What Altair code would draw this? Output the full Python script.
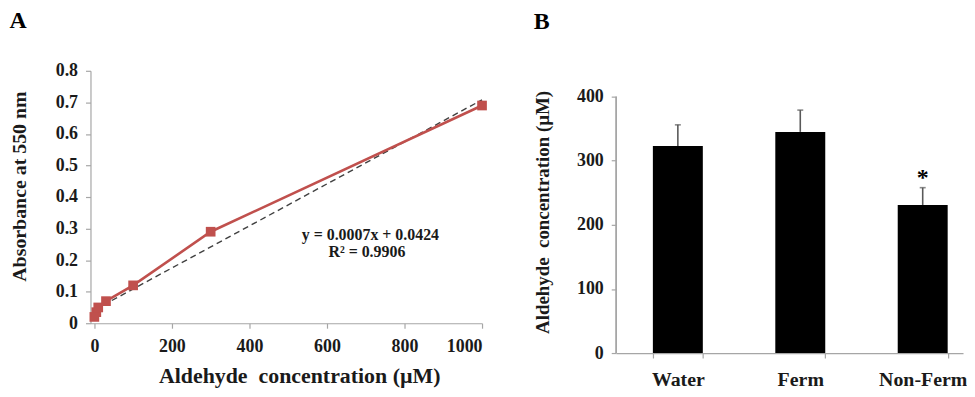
import altair as alt
import pandas as pd

# ---- Panel A data (standard curve) ----
std_conc = [0, 5, 10, 30, 100, 300, 1000]
absorbance = [0.02, 0.035, 0.05, 0.07, 0.12, 0.29, 0.69]
trend_x = [0, 1000]
trend_y = [0.042, 0.708]
eq_lines = ["y = 0.0007x + 0.0424", "R\u00b2 = 0.9906"]
eq_x = [712, 703]
eq_y = [0.278, 0.227]

# ---- Panel B data ----
groups = ["Water", "Ferm", "Non-Ferm"]
means = [323, 345, 231]
sems = [33, 34, 27]
star_group = ["Non-Ferm"]
star_y = [262]
star_text = ["*"]

SERIF = "Liberation Serif"
AX = "#a6a6a6"
CONC_TITLE = "Aldehyde\u00a0\u00a0concentration (\u00b5M)"

std_df = pd.DataFrame({"conc": std_conc, "abs": absorbance})
trend_df = pd.DataFrame({"conc": trend_x, "abs": trend_y})
eq_df = pd.DataFrame({"conc": eq_x, "abs": eq_y, "t": eq_lines})

xA = alt.X("conc:Q", scale=alt.Scale(domain=[-10, 1000], nice=False),
           axis=alt.Axis(values=[0, 200, 400, 600, 800, 1000], format="d", labelOverlap=False,
                         title=CONC_TITLE,
                         titleFontSize=22, titlePadding=11, labelPadding=9, titleX=210))
yA = alt.Y("abs:Q", scale=alt.Scale(domain=[0, 0.8], nice=False),
           axis=alt.Axis(values=[0, 0.1, 0.2, 0.3, 0.4, 0.5, 0.6, 0.7, 0.8], labelOverlap=False,
                         labelExpr="datum.value == 0 ? '0' : format(datum.value, '.1f')",
                         title="Absorbance at 550 nm", titleFontSize=20, titlePadding=26,
                         labelPadding=8, titleY=116))

trend = alt.Chart(trend_df).mark_line(color="#404040", strokeDash=[6, 4], strokeWidth=1.4).encode(x=xA, y=yA)
line = alt.Chart(std_df).mark_line(color="#c0504d", strokeWidth=2.6).encode(x=xA, y=yA)
pts = alt.Chart(std_df).mark_point(shape="square", filled=True, size=95, color="#c0504d", opacity=1).encode(x=xA, y=yA)
eq = alt.Chart(eq_df).mark_text(font=SERIF, fontWeight="bold", fontSize=16, color="#1a1a1a",
                                baseline="middle", align="center").encode(x=xA, y=yA, text="t:N")

panelA = alt.layer(trend, line, pts, eq).properties(
    width=394, height=254,
    title=alt.TitleParams("A", anchor="start", font=SERIF, fontSize=24, fontWeight="bold", offset=29),
)

bar_df = pd.DataFrame({"g": groups, "m": means, "s": sems})
bar_df["up"] = bar_df["m"] + bar_df["s"]
star_df = pd.DataFrame({"g": star_group, "y": star_y, "t": star_text})

Y_TOP = 400 * 284 / 258  # extra headroom so panel B's 400 sits lower than panel A's 0.8

xB = alt.X("g:N", sort=groups,
           scale=alt.Scale(paddingInner=0.592, paddingOuter=0.2125, align=0.705),
           axis=alt.Axis(title=None, labelAngle=0, tickBand="extent", labelFontSize=20, labelPadding=12))
yB = alt.Y("m:Q", scale=alt.Scale(domain=[0, Y_TOP], nice=False),
           axis=alt.Axis(values=[0, 100, 200, 300, 400], title=CONC_TITLE,
                         domain=False, titleFontSize=19, titlePadding=24, labelPadding=8, titleY=142))

axis_line = alt.Chart(bar_df).mark_rule(color=AX, strokeWidth=1.2).encode(
    x=alt.value(0), y=alt.datum(0), y2=alt.datum(400))
bars = alt.Chart(bar_df).mark_bar(color="black").encode(x=xB, y=yB)
err = alt.Chart(bar_df).mark_rule(color="#595959", strokeWidth=1.6).encode(
    x=alt.X("g:N", sort=groups), y="m:Q", y2="up:Q")
cap = alt.Chart(bar_df).mark_tick(color="#595959", orient="horizontal", size=6, thickness=1.6).encode(
    x=alt.X("g:N", sort=groups), y="up:Q")
star = alt.Chart(star_df).mark_text(font=SERIF, fontWeight="bold", fontSize=24, color="black",
                                    baseline="alphabetic").encode(
    x=alt.X("g:N", sort=groups), y="y:Q", text="t:N")

panelB = alt.layer(bars, axis_line, err, cap, star).properties(
    width=349, height=284,
    title=alt.TitleParams("B", anchor="start", font=SERIF, fontSize=24, fontWeight="bold", offset=37),
)

chart = alt.concat(panelA, panelB, columns=2, spacing=45, align="none").properties(
    padding={"left": 1, "top": 0, "right": 0, "bottom": 0}
).configure_view(stroke=None).configure_axis(
    labelFont=SERIF, titleFont=SERIF, labelFontWeight="bold", titleFontWeight="bold",
    labelFontSize=18, labelColor="#1a1a1a", titleColor="#1a1a1a",
    grid=False, domainColor=AX, tickColor=AX, tickSize=5, domainWidth=1.2, tickWidth=1.2,
).configure_title(color="black")

chart.save("out.html", embed_options={"renderer": "svg", "actions": False})
